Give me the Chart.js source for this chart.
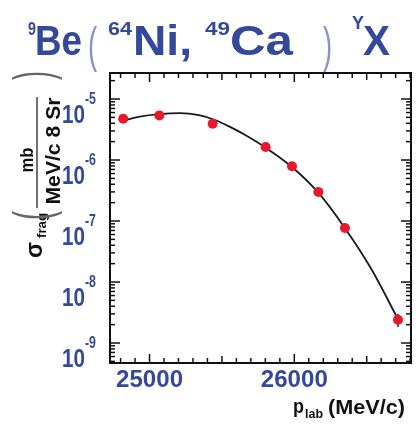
<!DOCTYPE html>
<html>
<head>
<meta charset="utf-8">
<script src="https://cdn.jsdelivr.net/npm/chart.js@4/dist/chart.umd.min.js"></script>
<style>
  html, body { margin: 0; padding: 0; background: #fff; }
  #wrap { position: relative; width: 416px; height: 437px; }
</style>
</head>
<body>
<div id="wrap"><canvas id="myChart"></canvas></div>
<script>
// measured points (p_lab in MeV/c, cross section in mb/(MeV/c sr))
const momentum = [24818, 25068, 25436, 25802, 25984, 26166, 26350, 26716];
const crossSection = [4.75e-6, 5.39e-6, 3.94e-6, 1.63e-6, 7.9e-7, 3.0e-7, 7.7e-8, 2.41e-9];
const errLow = [4.45e-6, 5.1e-6, 3.65e-6, 1.52e-6, 7.4e-7, 2.75e-7, 7.1e-8, 1.83e-9];
const errHigh = [5.05e-6, 5.7e-6, 4.25e-6, 1.74e-6, 8.4e-7, 3.3e-7, 8.3e-8, 3.0e-9];

// fit curve
const fitMomentum = [24816, 24932, 25068, 25211, 25341, 25457, 25566, 25682, 25798, 25982, 26166, 26350, 26534, 26725];
const fitValues = [4.41e-6, 5.13e-6, 5.64e-6, 5.85e-6, 5.42e-6, 4.49e-6, 3.39e-6, 2.41e-6, 1.62e-6, 7.76e-7, 2.91e-7, 7.62e-8, 1.6e-8, 2.23e-9];

const yTickExponents = [-5, -6, -7, -8, -9];
const xTickLabels = [25000, 26000];

const blue = '#34489c';
const font = (size, weight) => `${weight || 'bold'} ${size}px "Liberation Sans", Arial, sans-serif`;

// draw text squeezed/stretched to a given width
function fitText(ctx, text, x, y, size, width, align) {
   ctx.save();
   ctx.font = font(size);
   const w = ctx.measureText(text).width;
   const s = width ? width / w : 1;
   let left = x;
   if (align === 'center') left = x - w * s / 2;
   if (align === 'right') left = x - w * s;
   ctx.translate(left, y);
   ctx.scale(s, 1);
   ctx.textAlign = 'left';
   ctx.textBaseline = 'alphabetic';
   ctx.fillText(text, 0, 0);
   ctx.restore();
}

const line = (ctx, x1, y1, x2, y2) => { ctx.beginPath(); ctx.moveTo(x1, y1); ctx.lineTo(x2, y2); ctx.stroke(); }

const decorPlugin = {
   id: 'decor',
   beforeDatasetsDraw(chart) {
      const { ctx, scales: { x, y } } = chart;
      ctx.save();
      ctx.strokeStyle = '#222';
      ctx.lineWidth = 1.5;
      for (let i = 0; i < momentum.length; i++) {
         const px = x.getPixelForValue(momentum[i]);
         line(ctx, px, y.getPixelForValue(errLow[i]), px, y.getPixelForValue(errHigh[i]));
      }
      ctx.restore();
   },
   afterDraw(chart) {
      const { ctx, chartArea: a, scales: { x, y } } = chart;
      ctx.save();

      // frame
      ctx.strokeStyle = '#111';
      ctx.lineWidth = 2;
      ctx.strokeRect(a.left, a.top, a.right - a.left, a.bottom - a.top);

      // log ticks, left and right
      ctx.lineWidth = 1.5;
      for (let e = -10; e <= -4; e++) {
         for (let m = 1; m <= 9; m++) {
            const v = m * Math.pow(10, e);
            if (v < y.min || v > y.max) continue;
            const py = y.getPixelForValue(v);
            const len = m === 1 ? 10 : 5;
            line(ctx, a.left, py, a.left + len, py);
            line(ctx, a.right, py, a.right - len, py);
         }
      }
      // x ticks, bottom and top
      for (let v = 24800; v <= 26800; v += 100) {
         const px = x.getPixelForValue(v);
         if (px < a.left || px > a.right) continue;
         const len = v % 1000 === 0 ? 9 : (v % 500 === 0 ? 7 : 5);
         line(ctx, px, a.bottom, px, a.bottom - len);
         line(ctx, px, a.top, px, a.top + len);
      }

      // y tick labels
      ctx.fillStyle = blue;
      for (const e of yTickExponents) {
         const py = y.getPixelForValue(Math.pow(10, e));
         fitText(ctx, '10', 85, py + 24, 25, 23, 'right');
         fitText(ctx, String(e), 85, py + 5, 16, 11, 'left');
      }
      // x tick labels
      for (const v of xTickLabels) {
         fitText(ctx, String(v), x.getPixelForValue(v), a.bottom + 24, 24, 67, 'center');
      }

      // title
      fitText(ctx, '9', 28, 35, 19, 8);
      fitText(ctx, 'Be', 35, 55, 42, 47);
      fitText(ctx, '64', 108, 35, 19, 24);
      fitText(ctx, 'Ni,', 133, 55, 42, 59);
      fitText(ctx, '49', 205, 35, 19, 25);
      fitText(ctx, 'Ca', 230, 55, 42, 63);
      fitText(ctx, 'Y', 352, 29, 19, 12);
      fitText(ctx, 'X', 363, 55, 42, 27);
      ctx.fillStyle = '#8a94c6';
      ctx.font = font(50, 'normal');
      ctx.textBaseline = 'alphabetic';
      ctx.save(); ctx.translate(88, 62); ctx.scale(0.55, 1); ctx.textAlign = 'left'; ctx.fillText('(', 0, 0); ctx.restore();
      ctx.save(); ctx.translate(323, 62); ctx.scale(0.55, 1); ctx.textAlign = 'left'; ctx.fillText(')', 0, 0); ctx.restore();

      // x axis title
      ctx.fillStyle = '#111';
      fitText(ctx, 'p', 293, 413, 21, 11);
      fitText(ctx, 'lab', 305, 418, 13, 18);
      fitText(ctx, '(MeV/c)', 328, 414, 20, 77);

      // y axis title (rotated)
      const rot = (tx, ty, fn) => { ctx.save(); ctx.translate(tx, ty); ctx.rotate(-Math.PI / 2); fn(); ctx.restore(); };
      rot(60, 151, () => fitText(ctx, 'MeV/c 8 Sr', 0, 0, 21, 107, 'center'));
      rot(33, 160, () => fitText(ctx, 'mb', 0, 0, 18, 25, 'center'));
      rot(42, 258, () => fitText(ctx, 'σ', 0, 0, 24, 16, 'left'));
      rot(46, 238, () => fitText(ctx, 'frag', 0, 0, 13, 25, 'left'));
      ctx.strokeStyle = '#111';
      ctx.lineWidth = 1.2;
      line(ctx, 37, 97, 37, 208);
      ctx.fillStyle = '#666';
      ctx.font = font(54, 'normal');
      rot(51, 220, () => { ctx.scale(0.5, 1); ctx.textAlign = 'left'; ctx.fillText('(', 0, 0); });
      rot(51, 71, () => { ctx.scale(0.5, 1); ctx.textAlign = 'right'; ctx.fillText(')', 0, 0); });

      ctx.restore();
   }
};

const createChart = () => {
   const data = {
      datasets: [{
         label: 'fit',
         data: fitMomentum.map((p, i) => ({ x: p, y: fitValues[i] })),
         showLine: true,
         borderColor: '#1a1a1a',
         borderWidth: 1.8,
         pointRadius: 0,
         cubicInterpolationMode: 'monotone',
         order: 2
      }, {
         label: 'data',
         data: momentum.map((p, i) => ({ x: p, y: crossSection[i] })),
         showLine: false,
         backgroundColor: '#e8192c',
         borderWidth: 0,
         pointRadius: 5,
         order: 1
      }]
   };
   const config = {
      type: 'scatter',
      data: data,
      options: {
         responsive: true,
         maintainAspectRatio: false,
         animation: false,
         layout: { padding: { left: 110, right: 1, top: 73, bottom: 74 } },
         plugins: { legend: { display: false }, tooltip: { enabled: false } },
         scales: {
            x: { type: 'linear', display: false, min: 24727, max: 26806 },
            y: { type: 'logarithmic', display: false, min: 4.7e-10, max: 2.67e-5 }
         }
      },
      plugins: [decorPlugin]
   };
   const ctx = document.getElementById('myChart').getContext('2d');
   return new Chart(ctx, config);
}

createChart();
</script>
</body>
</html>
